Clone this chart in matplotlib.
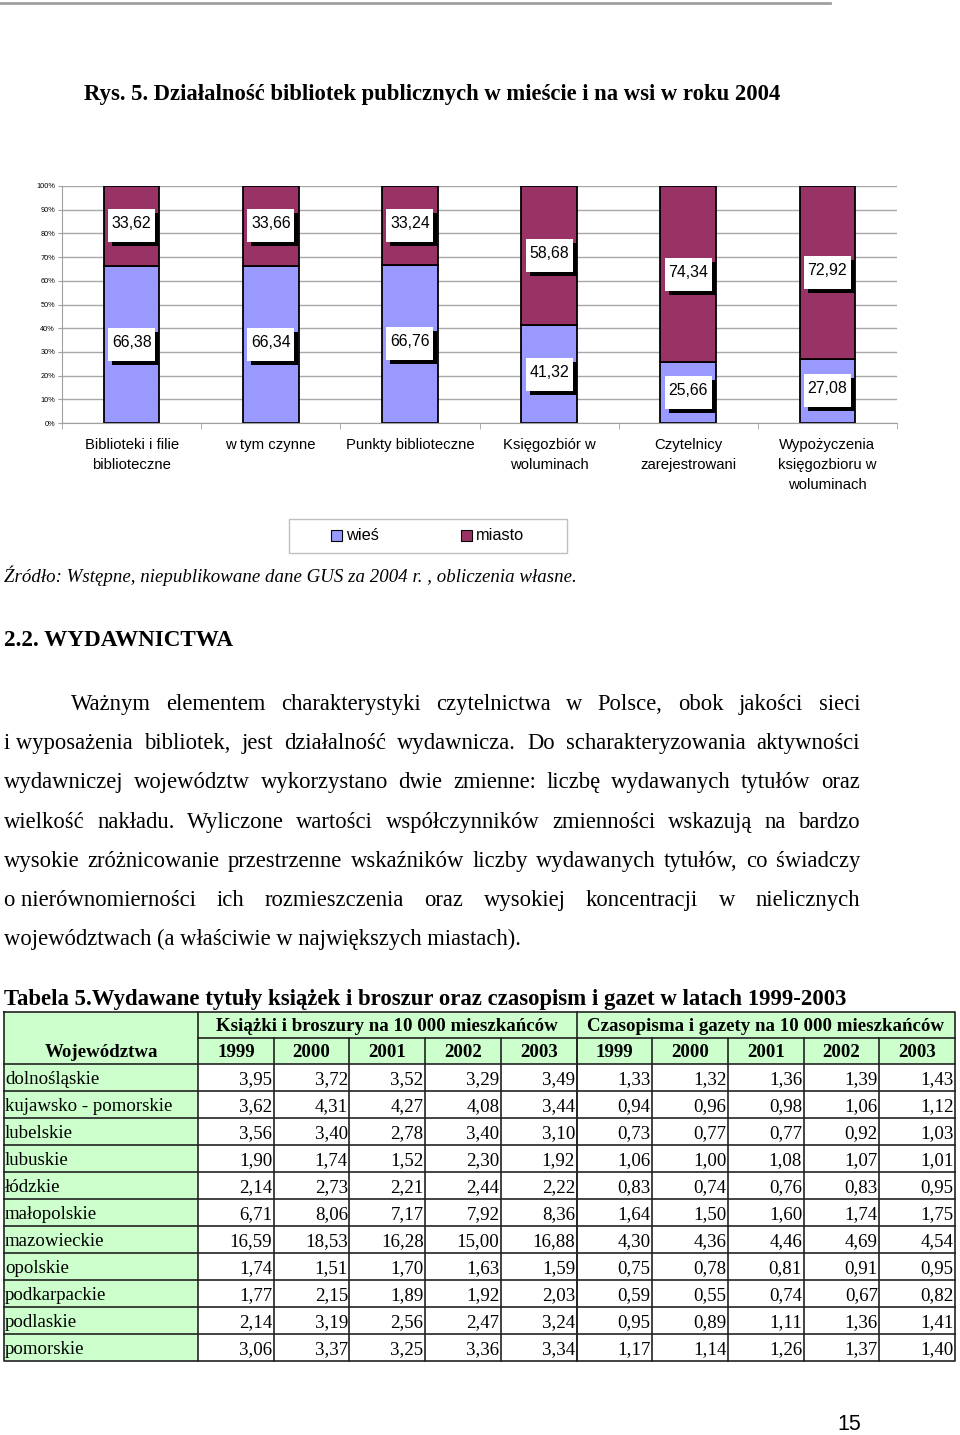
import matplotlib
matplotlib.use("Agg")
import matplotlib.pyplot as plt
from matplotlib.patches import Rectangle

# chart data
categories = ["Biblioteki i filie\nbiblioteczne", "w tym czynne", "Punkty biblioteczne",
              "Księgozbiór w\nwoluminach", "Czytelnicy\nzarejestrowani",
              "Wypożyczenia\nksięgozbioru w\nwoluminach"]
wies = [66.38, 66.34, 66.76, 41.32, 25.66, 27.08]
miasto = [33.62, 33.66, 33.24, 58.68, 74.34, 72.92]
yticks = list(range(0, 101, 10))

# table data
regions = ["dolnośląskie", "kujawsko - pomorskie", "lubelskie", "lubuskie", "łódzkie",
           "małopolskie", "mazowieckie", "opolskie", "podkarpackie", "podlaskie", "pomorskie"]
years = ["1999", "2000", "2001", "2002", "2003"]
books = [
    [3.95, 3.72, 3.52, 3.29, 3.49],
    [3.62, 4.31, 4.27, 4.08, 3.44],
    [3.56, 3.40, 2.78, 3.40, 3.10],
    [1.90, 1.74, 1.52, 2.30, 1.92],
    [2.14, 2.73, 2.21, 2.44, 2.22],
    [6.71, 8.06, 7.17, 7.92, 8.36],
    [16.59, 18.53, 16.28, 15.00, 16.88],
    [1.74, 1.51, 1.70, 1.63, 1.59],
    [1.77, 2.15, 1.89, 1.92, 2.03],
    [2.14, 3.19, 2.56, 2.47, 3.24],
    [3.06, 3.37, 3.25, 3.36, 3.34],
]
press = [
    [1.33, 1.32, 1.36, 1.39, 1.43],
    [0.94, 0.96, 0.98, 1.06, 1.12],
    [0.73, 0.77, 0.77, 0.92, 1.03],
    [1.06, 1.00, 1.08, 1.07, 1.01],
    [0.83, 0.74, 0.76, 0.83, 0.95],
    [1.64, 1.50, 1.60, 1.74, 1.75],
    [4.30, 4.36, 4.46, 4.69, 4.54],
    [0.75, 0.78, 0.81, 0.91, 0.95],
    [0.59, 0.55, 0.74, 0.67, 0.82],
    [0.95, 0.89, 1.11, 1.36, 1.41],
    [1.17, 1.14, 1.26, 1.37, 1.40],
]

paragraph = [
    "Ważnym elementem charakterystyki czytelnictwa w Polsce, obok jakości sieci",
    "i\u00a0wyposażenia bibliotek, jest działalność wydawnicza. Do scharakteryzowania aktywności",
    "wydawniczej województw wykorzystano dwie zmienne: liczbę wydawanych tytułów oraz",
    "wielkość nakładu. Wyliczone wartości współczynników zmienności wskazują na bardzo",
    "wysokie zróżnicowanie przestrzenne wskaźników liczby wydawanych tytułów, co świadczy",
    "o\u00a0nierównomierności ich rozmieszczenia oraz wysokiej koncentracji w nielicznych",
    "województwach (a właściwie w największych miastach).",
]

W, H = 960, 1435
SERIF = "Liberation Serif"
SANS = "Liberation Sans"
c_wies = "#9999FF"
c_miasto = "#993366"
green = "#CCFFCC"

fig = plt.figure(figsize=(W / 100, H / 100), dpi=100)
renderer = fig.canvas.get_renderer()

# page layer in pixel coordinates (y from top)
page = fig.add_axes([0, 0, 1, 1])
page.set_xlim(0, W)
page.set_ylim(H, 0)
page.axis("off")
page.set_zorder(3)


def text_width(s, size, **kw):
    t = page.text(0, 0, s, fontsize=size, **kw)
    w = t.get_window_extent(renderer).width
    t.remove()
    return w


def fit(s, width, **kw):
    return 10 * width / text_width(s, 10, **kw)


# top rule
page.plot([0, 830], [3, 3], color="#a0a0a0", lw=2)

# title
title = "Rys. 5. Działalność bibliotek publicznych w mieście i na wsi w roku 2004"
page.text(84, 100, title, family=SERIF, weight="bold", fontsize=fit(title, 698, family=SERIF, weight="bold"),
          va="baseline")

# ---- chart ----
ax = fig.add_axes([62 / W, 1 - 423 / H, 835 / W, 237 / H])
x = list(range(len(categories)))
ax.bar(x, wies, width=0.4, color=c_wies, edgecolor="black", lw=1.3, zorder=2, label="wieś")
ax.bar(x, miasto, width=0.4, bottom=wies, color=c_miasto, edgecolor="black", lw=1.3, zorder=2, label="miasto")
ax.set_xlim(-0.5, 5.5)
ax.set_ylim(0, 100)
ax.set_yticks(yticks, [f"{v}%" for v in yticks], family=SANS, fontsize=5.3)
ax.yaxis.grid(True, color="#a8a8a8", lw=1)
ax.set_axisbelow(True)
for s in ["top", "right"]:
    ax.spines[s].set_visible(False)
for s in ["left", "bottom"]:
    ax.spines[s].set_color("#a0a0a0")
ax.tick_params(axis="y", length=3, color="#a0a0a0", pad=2)
ax.set_xticks(x, categories, family=SANS, fontsize=10.7, linespacing=1.55)
ax.tick_params(axis="x", which="major", length=0, pad=11)
ax.set_xticks([i - 0.5 for i in range(len(categories) + 1)], minor=True)
ax.tick_params(axis="x", which="minor", length=4, color="#a0a0a0")

# value labels with shadowed boxes
bw, bh, sh = 47, 33, 4


def label(xc, yc, val):
    dx, dy = ax.transData.transform((xc, yc))
    px, py = dx, H - dy
    page.add_patch(Rectangle((px - bw / 2 + sh, py - bh / 2 + sh), bw, bh, facecolor="black", lw=0))
    page.add_patch(Rectangle((px - bw / 2, py - bh / 2), bw, bh, facecolor="white", lw=0))
    page.text(px, py - 2, f"{val:.2f}".replace(".", ","), family=SANS, fontsize=11.4,
              ha="center", va="center")


for i in x:
    label(i, wies[i] / 2, wies[i])
    label(i, wies[i] + miasto[i] / 2, miasto[i])

# legend
page.add_patch(Rectangle((289, 519), 278, 34, facecolor="white", edgecolor="#c0c0c0", lw=1))
for sx, col, name in [(331, c_wies, "wieś"), (461, c_miasto, "miasto")]:
    page.add_patch(Rectangle((sx, 530), 11, 11, facecolor=col, edgecolor="black", lw=0.8))
    page.text(sx + 15, 536, name, family=SANS, fontsize=11.8, va="center")

# source
src = "Źródło: Wstępne, niepublikowane dane GUS za 2004 r. , obliczenia własne."
page.text(4, 582, src, family=SERIF, style="italic", fontsize=fit(src, 574, family=SERIF, style="italic"),
          va="baseline")

head = "2.2. WYDAWNICTWA"
page.text(4, 646, head, family=SERIF, weight="bold", fontsize=fit(head, 229, family=SERIF, weight="bold"),
          va="baseline")

# justified paragraph
psize = fit(paragraph[-1], 517, family=SERIF)
for k, line in enumerate(paragraph):
    y = 710 + k * 39.2
    x0 = 71 if k == 0 else 4
    words = line.split(" ")
    if k == len(paragraph) - 1:
        page.text(x0, y, line, family=SERIF, fontsize=psize, va="baseline")
        continue
    widths = [text_width(w, psize, family=SERIF) for w in words]
    gap = (860 - x0 - sum(widths)) / (len(words) - 1)
    xp = x0
    for w, wd in zip(words, widths):
        page.text(xp, y, w, family=SERIF, fontsize=psize, va="baseline")
        xp += wd + gap

# ---- table ----
ttl = "Tabela 5.Wydawane tytuły książek i broszur oraz czasopism i gazet w latach 1999-2003"
page.text(4, 1005, ttl, family=SERIF, weight="bold", fontsize=fit(ttl, 843, family=SERIF, weight="bold"),
          va="baseline")

L, C0, R = 4, 198, 955
cw = (R - C0) / 10
col_edges = [C0 + i * cw for i in range(11)]
top, mid, hb = 1012, 1038, 1064
rh = (1361 - hb) / len(regions)
row_edges = [hb + i * rh for i in range(len(regions) + 1)]
bottom = row_edges[-1]

page.add_patch(Rectangle((C0, top), R - C0, hb - top, facecolor=green, lw=0))
page.add_patch(Rectangle((L, top), C0 - L, bottom - top, facecolor=green, lw=0))

lc, lw = "#222222", 1.2
page.plot([L, R, R, L, L], [top, top, bottom, bottom, top], color=lc, lw=lw)
page.plot([C0, C0], [top, bottom], color=lc, lw=lw)
page.plot([C0, R], [mid, mid], color=lc, lw=lw)
page.plot([col_edges[5], col_edges[5]], [top, bottom], color=lc, lw=lw)
for xe in col_edges[1:-1]:
    page.plot([xe, xe], [mid, bottom], color=lc, lw=lw)
for ye in row_edges[:-1]:
    page.plot([L, R], [ye, ye], color=lc, lw=lw)

hsize = fit("Książki i broszury na 10 000 mieszkańców", 341, family=SERIF, weight="bold")
dsize = fit("kujawsko - pomorskie", 167, family=SERIF)
hpx = hsize * 100 / 72
dpx = dsize * 100 / 72

page.text((col_edges[0] + col_edges[5]) / 2, (top + mid) / 2 + 0.33 * hpx,
          "Książki i broszury na 10 000 mieszkańców", family=SERIF, weight="bold", fontsize=hsize,
          ha="center", va="baseline")
page.text((col_edges[5] + col_edges[10]) / 2, (top + mid) / 2 + 0.33 * hpx,
          "Czasopisma i gazety na 10 000 mieszkańców", family=SERIF, weight="bold", fontsize=hsize,
          ha="center", va="baseline")
page.text((L + C0) / 2, (mid + hb) / 2 + 0.33 * hpx, "Województwa", family=SERIF, weight="bold",
          fontsize=hsize, ha="center", va="baseline")
for j in range(10):
    page.text((col_edges[j] + col_edges[j + 1]) / 2, (mid + hb) / 2 + 0.33 * hpx, years[j % 5],
              family=SERIF, weight="bold", fontsize=hsize, ha="center", va="baseline")

for i, name in enumerate(regions):
    yb = (row_edges[i] + row_edges[i + 1]) / 2 + 0.33 * dpx
    page.text(L + 1, yb, name, family=SERIF, fontsize=dsize, va="baseline")
    vals = books[i] + press[i]
    for j, v in enumerate(vals):
        page.text(col_edges[j + 1] - 1.5, yb, f"{v:.2f}".replace(".", ","), family=SERIF,
                  fontsize=dsize, ha="right", va="baseline")

# page number
page.text(861, 1424, "15", family=SANS, fontsize=15.5, ha="right", va="center")

fig.savefig("out.png", dpi=100)
